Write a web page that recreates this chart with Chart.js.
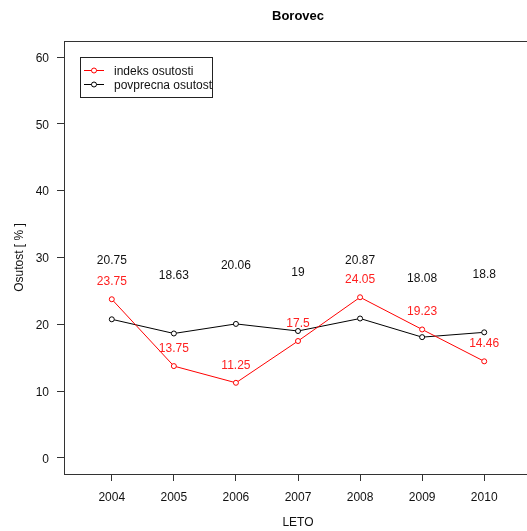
<!DOCTYPE html>
<html>
<head>
<meta charset="utf-8">
<script src="https://cdn.jsdelivr.net/npm/chart.js@4.4.1/dist/chart.umd.min.js"></script>
<style>
html,body{margin:0;padding:0;background:#fff;overflow:hidden;}
#wrap{position:absolute;left:0;top:0;width:540px;height:531px;}
</style>
</head>
<body>
<div id="wrap"><canvas id="c" width="540" height="531"></canvas></div>
<script>
const titleText = "Borovec";
const years = [2004, 2005, 2006, 2007, 2008, 2009, 2010];
const indeksOsutosti = [23.75, 13.75, 11.25, 17.5, 24.05, 19.23, 14.46];
const povprecnaOsutost = [20.75, 18.63, 20.06, 19, 20.87, 18.08, 18.8];
const indeksLabels = ["23.75", "13.75", "11.25", "17.5", "24.05", "19.23", "14.46"];
const povprecnaLabels = ["20.75", "18.63", "20.06", "19", "20.87", "18.08", "18.8"];
const yTicks = [0, 10, 20, 30, 40, 50, 60];
const seriesNames = ["indeks osutosti", "povprecna osutost"];

const FONT = "'Liberation Sans', Arial, sans-serif";

const extrasPlugin = {
  id: 'extras',
  afterDatasetsDraw(chart) {
    const ctx = chart.ctx;
    const a = chart.chartArea;
    const xs = chart.scales.x, ys = chart.scales.y;
    ctx.save();
    // box
    ctx.strokeStyle = '#333';
    ctx.lineWidth = 1;
    ctx.strokeRect(Math.round(a.left) + 0.5, Math.round(a.top) + 0.5, Math.round(a.right - a.left), Math.round(a.bottom - a.top));
    // title
    ctx.fillStyle = '#000';
    ctx.font = "bold 13px " + FONT;
    ctx.textAlign = 'center';
    ctx.textBaseline = 'middle';
    ctx.fillText(titleText, (a.left + a.right) / 2, 16);
    // data labels
    ctx.font = "12px " + FONT;
    const ds0 = chart.data.datasets[0], ds1 = chart.data.datasets[1];
    ds0.data.forEach((p, i) => {
      ctx.fillStyle = '#ff2020';
      ctx.fillText(indeksLabels[i], xs.getPixelForValue(p.x), ys.getPixelForValue(p.y + 2.9) + 2);
    });
    ds1.data.forEach((p, i) => {
      ctx.fillStyle = '#111';
      ctx.fillText(povprecnaLabels[i], xs.getPixelForValue(p.x), ys.getPixelForValue(p.y + 9) + 2);
    });
    // legend
    const lx = 80, ly = 57, lw = 132, lh = 40;
    ctx.fillStyle = '#fff';
    ctx.fillRect(lx, ly, lw, lh);
    ctx.strokeStyle = '#222';
    ctx.strokeRect(lx + 0.5, ly + 0.5, lw, lh);
    const rows = [
      {name: seriesNames[0], color: '#ff0000', y: 70.5},
      {name: seriesNames[1], color: '#000', y: 84.5}
    ];
    rows.forEach(r => {
      ctx.strokeStyle = r.color;
      ctx.beginPath();
      ctx.moveTo(84, r.y); ctx.lineTo(91.5, r.y);
      ctx.moveTo(96.5, r.y); ctx.lineTo(104, r.y);
      ctx.stroke();
      ctx.beginPath();
      ctx.arc(94, r.y, 2.5, 0, Math.PI * 2);
      ctx.stroke();
      ctx.fillStyle = '#111';
      ctx.textAlign = 'left';
      ctx.textBaseline = 'middle';
      ctx.fillText(r.name, 114, r.y + 1);
    });
    ctx.restore();
  }
};

new Chart(document.getElementById('c'), {
  type: 'line',
  data: {
    datasets: [
      {
        label: seriesNames[0],
        data: years.map((y, i) => ({x: y, y: indeksOsutosti[i]})),
        borderColor: '#ff0000',
        backgroundColor: '#fff',
        borderWidth: 1,
        pointRadius: 2.5,
        pointBorderWidth: 1,
        pointBorderColor: '#ff0000',
        pointBackgroundColor: '#fff',
        tension: 0
      },
      {
        label: seriesNames[1],
        data: years.map((y, i) => ({x: y, y: povprecnaOsutost[i]})),
        borderColor: '#000',
        backgroundColor: '#fff',
        borderWidth: 1,
        pointRadius: 2.5,
        pointBorderWidth: 1,
        pointBorderColor: '#000',
        pointBackgroundColor: '#fff',
        tension: 0
      }
    ]
  },
  options: {
    responsive: false,
    animation: false,
    layout: {padding: {top: 41, right: 8, left: 0, bottom: 0}},
    plugins: {legend: {display: false}, tooltip: {enabled: false}, title: {display: false}},
    scales: {
      x: {
        type: 'linear',
        min: years[0] - 0.77,
        max: years[years.length - 1] + 0.77,
        afterBuildTicks: s => { s.ticks = years.map(v => ({value: v})); },
        afterFit: s => { s.height = 57; },
        grid: {display: true, drawOnChartArea: false, drawTicks: true, tickLength: 7, tickColor: '#333'},
        border: {display: false},
        ticks: {
          callback: v => String(v),
          font: {family: FONT, size: 12},
          color: '#111',
          padding: 9,
          maxRotation: 0,
          autoSkip: false
        },
        title: {display: true, text: 'LETO', font: {family: FONT, size: 12}, color: '#111', padding: {top: 0, bottom: 1}}
      },
      y: {
        type: 'linear',
        min: -2.4,
        max: 62.4,
        afterBuildTicks: s => { s.ticks = yTicks.map(v => ({value: v})); },
        afterFit: s => { s.width = 64; },
        grid: {display: true, drawOnChartArea: false, drawTicks: true, tickLength: 7, tickColor: '#333'},
        border: {display: false},
        ticks: {
          callback: v => String(v),
          font: {family: FONT, size: 12},
          color: '#111',
          padding: 8,
          labelOffset: 1.5
        },
        title: {display: true, text: 'Osutost [ % ]', font: {family: FONT, size: 12}, color: '#111', padding: {top: 12, bottom: 0}}
      }
    }
  },
  plugins: [extrasPlugin]
});
</script>
</body>
</html>
